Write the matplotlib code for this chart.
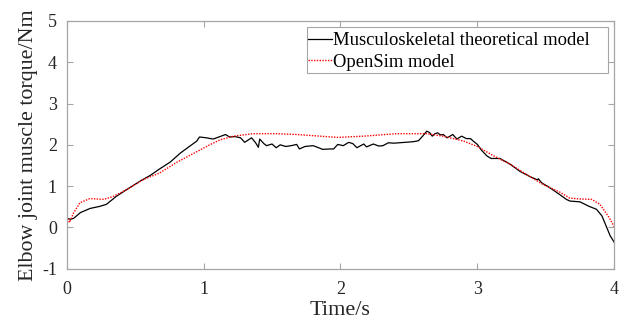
import matplotlib
matplotlib.use("Agg")
import matplotlib.pyplot as plt
from matplotlib.patches import Rectangle

# Musculoskeletal theoretical model (black)
t_musc = [0.00, 0.03, 0.05, 0.10, 0.17, 0.24, 0.29, 0.365, 0.44, 0.535, 0.61, 0.68,
          0.755, 0.83, 0.90, 0.95, 0.97, 1.02, 1.07, 1.12, 1.16, 1.19, 1.23, 1.27,
          1.30, 1.35, 1.38, 1.40, 1.41, 1.44, 1.46, 1.50, 1.53, 1.56, 1.60, 1.64,
          1.68, 1.70, 1.74, 1.80, 1.84, 1.87, 1.92, 1.95, 1.98, 2.02, 2.06, 2.09,
          2.12, 2.17, 2.19, 2.24, 2.28, 2.31, 2.35, 2.39, 2.43, 2.47, 2.51, 2.54,
          2.57, 2.60, 2.63, 2.65, 2.67, 2.69, 2.71, 2.73, 2.75, 2.78, 2.82, 2.85,
          2.885, 2.92, 2.95, 2.97, 3.00, 3.03, 3.07, 3.10, 3.165, 3.24, 3.31, 3.385,
          3.44, 3.445, 3.47, 3.53, 3.60, 3.65, 3.675, 3.75, 3.81, 3.87, 3.91, 3.945,
          3.97, 4.00]
v_musc = [0.22, 0.20, 0.22, 0.36, 0.46, 0.51, 0.56, 0.76, 0.92, 1.12, 1.26, 1.42,
          1.58, 1.80, 1.97, 2.09, 2.19, 2.17, 2.14, 2.20, 2.25, 2.19, 2.20, 2.17,
          2.06, 2.17, 2.05, 1.94, 2.14, 2.03, 1.98, 2.02, 1.93, 2.00, 1.96, 1.98,
          2.01, 1.90, 1.96, 1.98, 1.93, 1.89, 1.90, 1.90, 2.01, 1.98, 2.06, 2.03,
          1.93, 2.02, 1.95, 2.02, 1.97, 1.98, 2.05, 2.04, 2.05, 2.06, 2.07, 2.08,
          2.10, 2.21, 2.33, 2.30, 2.21, 2.27, 2.29, 2.24, 2.25, 2.17, 2.25, 2.14,
          2.21, 2.15, 2.15, 2.09, 2.01, 1.87, 1.73, 1.67, 1.67, 1.53, 1.36, 1.23,
          1.15, 1.18, 1.08, 0.96, 0.80, 0.68, 0.64, 0.62, 0.52, 0.44, 0.28, 0.00,
          -0.20, -0.36]

# OpenSim model (red dotted)
t_osim = [0.00, 0.02, 0.05, 0.097, 0.17, 0.27, 0.34, 0.44, 0.56, 0.68, 0.80, 0.925,
          1.05, 1.12, 1.22, 1.36, 1.53, 1.68, 1.85, 1.98, 2.17, 2.41, 2.63, 2.75,
          2.90, 3.00, 3.12, 3.24, 3.36, 3.48, 3.60, 3.675, 3.75, 3.835, 3.895,
          3.955, 4.00]
v_osim = [0.28, 0.12, 0.35, 0.60, 0.70, 0.68, 0.75, 0.92, 1.16, 1.32, 1.57, 1.79,
          2.01, 2.12, 2.21, 2.27, 2.27, 2.25, 2.21, 2.18, 2.21, 2.27, 2.27, 2.21,
          2.09, 1.96, 1.73, 1.53, 1.28, 1.04, 0.86, 0.71, 0.69, 0.68, 0.56,
          0.28, 0.02]

xticks = [0, 1, 2, 3, 4]
yticks = [-1, 0, 1, 2, 3, 4, 5]

plt.rcParams['font.family'] = ['Liberation Serif', 'DejaVu Serif']

W, H = 627, 321
fig = plt.figure(figsize=(W / 100, H / 100), dpi=100)
ax = fig.add_axes([0.1064, 0.1626, 0.8733, 0.7724])

ax.plot(t_musc, v_musc, color='black', lw=0.9, label='Musculoskeletal theoretical model')
ax.plot(t_osim, v_osim, color='red', lw=1.0, ls=(0, (1, 1)), label='OpenSim model')

ax.set_xlim(0, 4)
ax.set_ylim(-1, 5)
ax.set_xticks(xticks)
ax.set_yticks(yticks)
ax.set_xticklabels([str(v) for v in xticks])
ax.set_yticklabels([str(v) for v in yticks])

gray = '#a6a6a6'
for s in ax.spines.values():
    s.set_color(gray)
    s.set_linewidth(0.9)
ax.tick_params(direction='in', top=True, right=True, length=4, width=0.8,
               color=gray, labelsize=13, labelcolor='#262626')
ax.tick_params(axis='x', pad=9)
ax.tick_params(axis='y', pad=7)

ax.set_xlabel('Time/s', fontsize=16, color='#262626', labelpad=2)
ax.set_ylabel('Elbow joint muscle torque/Nm', fontsize=15.8, color='#262626', labelpad=3)

# legend frame (MATLAB-style box with extra right padding)
fx0, fx1 = 306.7 / W, 608.3 / W
fy0, fy1 = 1 - 73.3 / H, 1 - 26.7 / H
frame = Rectangle((fx0, fy0), fx1 - fx0, fy1 - fy0, transform=fig.transFigure,
                  facecolor='white', edgecolor=gray, linewidth=0.8, zorder=4,
                  clip_on=False)
ax.add_artist(frame)

leg = ax.legend(loc='upper left', bbox_to_anchor=(302.4 / W, 1 - 26.7 / H),
                bbox_transform=fig.transFigure, borderaxespad=0,
                fontsize=13.4, frameon=False,
                borderpad=0.3, labelspacing=0.25,
                handlelength=1.3, handletextpad=0.05)
leg.set_zorder(5)

fig.savefig('out.png', dpi=100)
